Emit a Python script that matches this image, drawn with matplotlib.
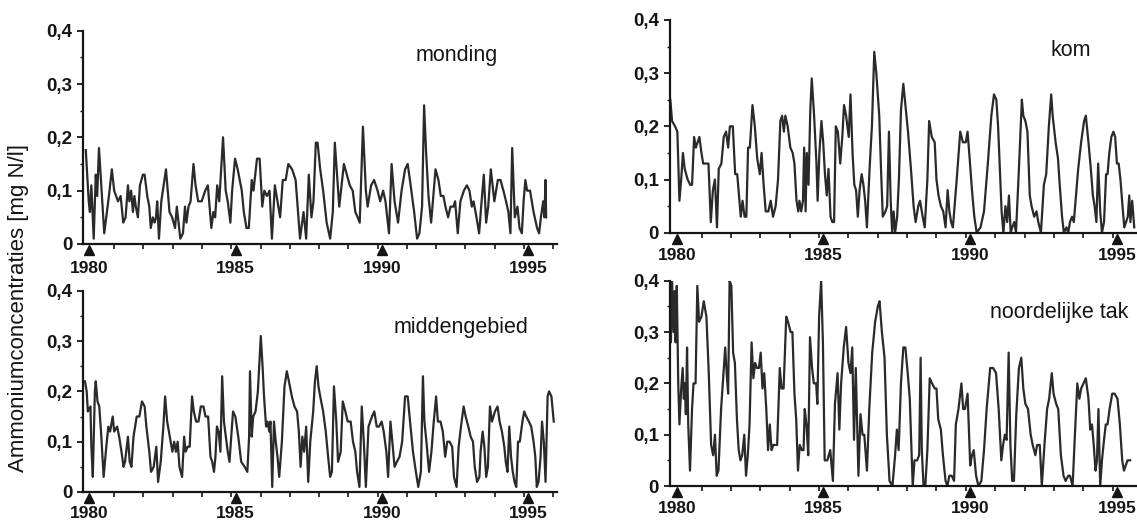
import matplotlib
matplotlib.use("Agg")
import matplotlib.pyplot as plt
from matplotlib.ticker import FixedLocator, FuncFormatter
from matplotlib.transforms import offset_copy
import numpy as np

plt.rcParams['font.family'] = ['Liberation Sans', 'DejaVu Sans']

# ---------------- data (decimal year, mg N/l) ----------------
monding_t = [1979.88,1979.98,1980.02,1980.07,1980.15,1980.22,1980.27,1980.33,1980.51,1980.67,1980.77,1980.85,1980.98,
 1981.07,1981.16,1981.24,1981.32,1981.37,1981.43,1981.49,1981.54,1981.59,1981.66,1981.73,1981.83,1981.89,1981.98,
 1982.05,1982.10,1982.17,1982.23,1982.28,1982.32,1982.38,1982.46,1982.62,1982.74,1982.83,1982.93,1982.99,
 1983.11,1983.20,1983.27,1983.32,1983.39,1983.46,1983.56,1983.63,1983.72,1983.84,1983.96,
 1984.05,1984.17,1984.24,1984.30,1984.37,1984.44,1984.57,1984.66,1984.73,1984.82,1984.88,1984.98,
 1985.07,1985.21,1985.28,1985.37,1985.45,1985.55,1985.61,1985.73,1985.82,1985.91,1985.98,
 1986.07,1986.16,1986.24,1986.34,1986.40,1986.52,1986.61,1986.71,1986.80,1986.93,
 1987.05,1987.20,1987.32,1987.41,1987.50,1987.59,1987.66,1987.74,1987.80,1987.89,1987.99,
 1988.11,1988.23,1988.32,1988.39,1988.54,1988.60,1988.70,1988.80,1988.90,1989.00,
 1989.09,1989.17,1989.24,1989.35,1989.45,1989.51,1989.63,1989.73,1989.85,1989.94,
 1990.04,1990.12,1990.24,1990.33,1990.43,1990.55,1990.67,1990.79,1990.88,1990.98,
 1991.10,1991.20,1991.28,1991.37,1991.44,1991.51,1991.59,1991.68,1991.74,1991.83,1991.93,
 1992.01,1992.10,1992.17,1992.26,1992.34,1992.44,1992.50,1992.59,1992.68,1992.80,1992.90,1992.99,
 1993.07,1993.13,1993.23,1993.32,1993.39,1993.48,1993.56,1993.63,1993.72,1993.84,1993.96,
 1994.05,1994.15,1994.24,1994.32,1994.39,1994.45,1994.54,1994.63,1994.70,1994.78,1994.84,1994.90,1994.96,
 1995.06,1995.18,1995.30,1995.37,1995.43,1995.51,1995.55,1995.59,1995.61]
monding_c = [0.176,0.08,0.06,0.11,0.01,0.13,0.09,0.18,0.02,0.09,0.14,0.10,0.08,
 0.09,0.04,0.05,0.11,0.08,0.10,0.06,0.09,0.07,0.05,0.11,0.13,0.13,0.09,
 0.07,0.03,0.05,0.04,0.05,0.08,0.01,0.08,0.14,0.06,0.05,0.03,0.07,
 0.01,0.02,0.07,0.04,0.07,0.08,0.15,0.11,0.08,0.08,0.10,
 0.11,0.03,0.06,0.05,0.11,0.08,0.20,0.10,0.08,0.04,0.10,0.16,
 0.14,0.10,0.06,0.03,0.03,0.12,0.10,0.16,0.16,0.07,0.10,
 0.09,0.10,0.01,0.11,0.09,0.05,0.12,0.12,0.15,0.14,
 0.12,0.01,0.06,0.01,0.13,0.05,0.08,0.19,0.19,0.14,0.10,
 0.04,0.01,0.06,0.19,0.07,0.10,0.15,0.13,0.11,0.10,
 0.06,0.05,0.04,0.22,0.10,0.07,0.11,0.12,0.10,0.08,
 0.10,0.08,0.02,0.15,0.08,0.04,0.10,0.14,0.15,0.11,
 0.06,0.01,0.02,0.07,0.26,0.17,0.09,0.04,0.08,0.14,0.12,
 0.09,0.09,0.07,0.05,0.07,0.07,0.08,0.02,0.08,0.10,0.11,0.10,
 0.07,0.08,0.05,0.02,0.07,0.13,0.04,0.07,0.14,0.08,0.12,
 0.12,0.10,0.08,0.06,0.02,0.18,0.05,0.07,0.03,0.02,0.08,0.12,0.10,
 0.10,0.06,0.03,0.02,0.05,0.08,0.05,0.12,0.05]

midden_t = [1979.85,1979.91,1979.95,1980.04,1980.07,1980.12,1980.19,1980.22,1980.28,1980.34,1980.40,1980.49,1980.58,
 1980.65,1980.71,1980.80,1980.85,1980.95,1981.02,1981.10,1981.17,1981.22,1981.32,1981.38,1981.44,1981.51,1981.62,
 1981.71,1981.80,1981.89,1981.95,1982.05,1982.11,1982.20,1982.29,1982.35,1982.44,1982.53,1982.59,1982.66,1982.75,
 1982.84,1982.90,1982.96,1983.02,1983.08,1983.17,1983.24,1983.29,1983.36,1983.43,1983.51,1983.57,1983.65,1983.73,
 1983.81,1983.90,1983.97,1984.06,1984.14,1984.20,1984.26,1984.31,1984.36,1984.42,1984.48,1984.54,1984.60,1984.73,
 1984.79,1984.85,1984.91,1984.99,1985.09,1985.19,1985.31,1985.40,1985.46,1985.49,1985.55,1985.60,1985.68,1985.76,
 1985.86,1985.92,1985.97,1986.04,1986.09,1986.15,1986.19,1986.25,1986.31,1986.37,1986.43,1986.49,1986.58,1986.67,
 1986.75,1986.82,1986.92,1987.01,1987.10,1987.16,1987.22,1987.28,1987.34,1987.41,1987.48,1987.55,1987.65,1987.71,
 1987.77,1987.83,1987.89,1987.99,1988.08,1988.16,1988.23,1988.29,1988.36,1988.44,1988.50,1988.59,1988.66,1988.75,
 1988.83,1988.93,1989.01,1989.09,1989.15,1989.23,1989.31,1989.38,1989.45,1989.54,1989.66,1989.74,1989.82,1989.90,
 1989.99,1990.06,1990.15,1990.21,1990.29,1990.37,1990.43,1990.51,1990.60,1990.69,1990.79,1990.88,1990.96,1991.06,
 1991.16,1991.24,1991.33,1991.40,1991.45,1991.52,1991.61,1991.69,1991.77,1991.85,1991.91,1992.00,1992.08,1992.16,
 1992.23,1992.31,1992.40,1992.46,1992.55,1992.62,1992.70,1992.79,1992.86,1992.95,1993.03,1993.11,1993.17,1993.25,
 1993.33,1993.37,1993.44,1993.50,1993.56,1993.62,1993.69,1993.76,1993.86,1993.95,1994.02,1994.10,1994.18,1994.23,
 1994.29,1994.35,1994.41,1994.47,1994.53,1994.59,1994.65,1994.71,1994.80,1994.86,1994.93,1995.02,1995.10,1995.18,
 1995.24,1995.29,1995.35,1995.42,1995.47,1995.53,1995.59,1995.66,1995.71,1995.79,1995.87]
midden_c = [0.22,0.20,0.16,0.17,0.09,0.03,0.20,0.22,0.18,0.17,0.12,0.03,0.09,
 0.13,0.12,0.15,0.12,0.13,0.11,0.08,0.05,0.06,0.11,0.06,0.05,0.11,0.15,
 0.15,0.18,0.17,0.13,0.08,0.04,0.05,0.09,0.02,0.06,0.13,0.19,0.14,0.11,
 0.08,0.10,0.08,0.10,0.05,0.03,0.11,0.08,0.09,0.09,0.19,0.16,0.14,0.14,
 0.17,0.17,0.15,0.15,0.07,0.06,0.04,0.07,0.13,0.12,0.08,0.23,0.14,0.08,
 0.06,0.11,0.16,0.15,0.11,0.06,0.05,0.04,0.11,0.24,0.11,0.15,0.16,0.20,
 0.31,0.25,0.19,0.13,0.14,0.12,0.14,0.01,0.14,0.10,0.07,0.03,0.10,0.21,
 0.24,0.22,0.19,0.17,0.16,0.12,0.05,0.11,0.08,0.13,0.02,0.10,0.16,0.22,
 0.25,0.21,0.19,0.16,0.12,0.07,0.03,0.04,0.21,0.14,0.06,0.08,0.18,0.16,
 0.14,0.14,0.10,0.08,0.04,0.01,0.17,0.10,0.01,0.13,0.15,0.16,0.13,0.13,
 0.14,0.12,0.08,0.03,0.14,0.09,0.05,0.06,0.07,0.10,0.19,0.19,0.14,0.08,
 0.04,0.01,0.04,0.23,0.14,0.10,0.04,0.08,0.14,0.19,0.14,0.14,0.12,0.07,
 0.10,0.10,0.09,0.03,0.01,0.09,0.13,0.17,0.15,0.13,0.11,0.10,0.05,0.02,
 0.03,0.08,0.12,0.09,0.03,0.05,0.17,0.14,0.16,0.17,0.14,0.12,0.09,0.06,
 0.04,0.13,0.07,0.04,0.02,0.01,0.10,0.10,0.14,0.16,0.15,0.14,0.13,0.10,
 0.07,0.01,0.02,0.07,0.14,0.10,0.02,0.19,0.20,0.19,0.14]

kom_t = [1979.78,1979.84,1979.94,1980.02,1980.09,1980.15,1980.21,1980.27,1980.37,1980.46,1980.52,1980.59,1980.65,
 1980.71,1980.77,1980.84,1980.90,1981.00,1981.08,1981.16,1981.23,1981.30,1981.37,1981.43,1981.52,1981.60,1981.68,
 1981.75,1981.81,1981.91,1981.99,1982.06,1982.12,1982.18,1982.24,1982.31,1982.37,1982.43,1982.49,1982.58,1982.66,
 1982.74,1982.83,1982.89,1982.96,1983.03,1983.12,1983.20,1983.28,1983.37,1983.45,1983.53,1983.59,1983.65,1983.70,
 1983.78,1983.87,1983.95,1984.01,1984.08,1984.14,1984.18,1984.24,1984.30,1984.34,1984.39,1984.43,1984.49,1984.55,
 1984.60,1984.68,1984.76,1984.80,1984.86,1984.93,1984.99,1985.05,1985.11,1985.17,1985.24,1985.30,1985.36,1985.42,
 1985.49,1985.57,1985.64,1985.70,1985.77,1985.86,1985.92,1985.99,1986.05,1986.11,1986.17,1986.23,1986.30,1986.36,
 1986.42,1986.48,1986.57,1986.65,1986.73,1986.80,1986.90,1986.96,1987.02,1987.11,1987.17,1987.23,1987.29,1987.34,
 1987.39,1987.44,1987.51,1987.57,1987.64,1987.72,1987.79,1987.88,1987.98,1988.07,1988.14,1988.23,1988.29,1988.38,
 1988.45,1988.54,1988.60,1988.69,1988.79,1988.85,1988.92,1989.00,1989.08,1989.16,1989.23,1989.29,1989.35,1989.41,
 1989.54,1989.66,1989.75,1989.85,1989.91,1989.98,1990.06,1990.14,1990.22,1990.35,1990.47,1990.60,1990.72,1990.81,
 1990.89,1990.95,1991.01,1991.07,1991.13,1991.20,1991.26,1991.32,1991.38,1991.43,1991.50,1991.56,1991.66,1991.76,
 1991.81,1991.88,1991.95,1992.03,1992.09,1992.18,1992.26,1992.32,1992.41,1992.51,1992.59,1992.68,1992.76,1992.81,
 1992.91,1992.99,1993.05,1993.13,1993.19,1993.28,1993.34,1993.40,1993.47,1993.53,1993.59,1993.68,1993.78,1993.88,
 1993.94,1994.03,1994.11,1994.18,1994.24,1994.30,1994.36,1994.43,1994.49,1994.56,1994.63,1994.68,1994.74,1994.81,
 1994.88,1994.94,1995.00,1995.06,1995.12,1995.19,1995.25,1995.31,1995.37,1995.42,1995.46,1995.52,1995.59]
kom_c = [0.25,0.21,0.20,0.19,0.06,0.10,0.15,0.12,0.10,0.09,0.09,0.18,0.16,
 0.17,0.18,0.15,0.13,0.13,0.13,0.02,0.08,0.10,0.01,0.12,0.13,0.18,0.19,
 0.16,0.20,0.20,0.11,0.11,0.07,0.03,0.06,0.03,0.03,0.16,0.16,0.24,0.20,
 0.14,0.11,0.15,0.09,0.04,0.04,0.06,0.03,0.05,0.10,0.21,0.22,0.19,0.22,
 0.20,0.16,0.15,0.13,0.06,0.04,0.06,0.04,0.06,0.16,0.04,0.15,0.09,0.23,
 0.29,0.22,0.13,0.06,0.15,0.21,0.17,0.11,0.07,0.12,0.03,0.02,0.02,0.20,
 0.19,0.13,0.18,0.24,0.22,0.18,0.26,0.15,0.09,0.08,0.03,0.08,0.11,0.09,
 0.06,0.01,0.12,0.20,0.34,0.30,0.22,0.12,0.03,0.04,0.05,0.19,0.06,0.00,
 0.04,0.00,0.03,0.10,0.23,0.28,0.24,0.19,0.12,0.05,0.02,0.05,0.06,0.03,
 0.01,0.10,0.21,0.18,0.17,0.10,0.07,0.05,0.04,0.01,0.08,0.04,0.02,0.01,
 0.10,0.19,0.17,0.17,0.19,0.14,0.08,0.03,0.00,0.01,0.04,0.13,0.22,0.26,
 0.25,0.20,0.12,0.04,0.00,0.05,0.02,0.07,0.00,0.01,0.02,0.00,0.12,0.25,
 0.22,0.21,0.19,0.07,0.05,0.03,0.04,0.02,0.00,0.09,0.11,0.20,0.26,0.22,
 0.17,0.14,0.09,0.03,0.00,0.01,0.00,0.02,0.03,0.02,0.06,0.12,0.17,0.21,
 0.22,0.17,0.12,0.07,0.05,0.02,0.13,0.04,0.00,0.02,0.11,0.11,0.15,0.18,
 0.19,0.18,0.13,0.13,0.10,0.05,0.01,0.02,0.03,0.07,0.02,0.06,0.01]

noord_t = [1979.76,1979.80,1979.84,1979.89,1979.93,1979.96,1980.00,1980.05,1980.09,1980.15,1980.20,1980.24,1980.27,
 1980.31,1980.35,1980.39,1980.45,1980.52,1980.57,1980.64,1980.70,1980.76,1980.84,1980.92,1981.01,1981.09,1981.17,
 1981.24,1981.30,1981.36,1981.42,1981.51,1981.58,1981.65,1981.70,1981.75,1981.80,1981.86,1981.92,1981.98,1982.05,
 1982.11,1982.17,1982.23,1982.30,1982.36,1982.42,1982.48,1982.55,1982.61,1982.67,1982.73,1982.80,1982.86,1982.92,
 1982.98,1983.05,1983.11,1983.17,1983.23,1983.29,1983.42,1983.51,1983.57,1983.64,1983.73,1983.79,1983.88,1983.94,
 1984.01,1984.07,1984.13,1984.19,1984.26,1984.32,1984.36,1984.42,1984.48,1984.54,1984.61,1984.67,1984.75,1984.79,
 1984.85,1984.92,1984.98,1985.04,1985.13,1985.23,1985.32,1985.39,1985.48,1985.54,1985.60,1985.69,1985.77,1985.85,
 1985.92,1985.98,1986.04,1986.10,1986.19,1986.26,1986.33,1986.39,1986.48,1986.56,1986.66,1986.76,1986.85,1986.91,
 1986.99,1987.08,1987.16,1987.25,1987.35,1987.44,1987.50,1987.56,1987.64,1987.72,1987.79,1987.87,1987.94,1988.04,
 1988.10,1988.19,1988.26,1988.31,1988.35,1988.41,1988.47,1988.54,1988.62,1988.70,1988.79,1988.85,1988.91,1989.00,
 1989.07,1989.16,1989.22,1989.29,1989.37,1989.45,1989.51,1989.60,1989.70,1989.76,1989.82,1989.91,1990.00,1990.06,
 1990.12,1990.20,1990.28,1990.38,1990.47,1990.56,1990.68,1990.78,1990.88,1990.97,1991.06,1991.12,1991.18,1991.24,
 1991.31,1991.37,1991.43,1991.49,1991.57,1991.66,1991.74,1991.81,1991.88,1991.97,1992.06,1992.13,1992.22,1992.28,
 1992.37,1992.44,1992.53,1992.62,1992.69,1992.78,1992.84,1992.93,1993.00,1993.09,1993.18,1993.25,1993.34,1993.40,
 1993.49,1993.56,1993.65,1993.72,1993.78,1993.86,1993.94,1994.03,1994.09,1994.15,1994.21,1994.27,1994.32,1994.37,
 1994.43,1994.49,1994.56,1994.62,1994.68,1994.75,1994.84,1994.92,1995.02,1995.10,1995.18,1995.24,1995.30,1995.36,
 1995.45]
noord_c = [0.40,0.28,0.40,0.30,0.38,0.28,0.39,0.20,0.12,0.19,0.23,0.17,0.20,
 0.14,0.27,0.12,0.03,0.15,0.20,0.20,0.39,0.32,0.33,0.36,0.33,0.22,0.08,
 0.06,0.10,0.02,0.03,0.15,0.21,0.27,0.22,0.18,0.40,0.39,0.26,0.24,0.13,
 0.07,0.05,0.06,0.10,0.02,0.06,0.12,0.28,0.21,0.24,0.23,0.23,0.26,0.19,
 0.22,0.15,0.07,0.12,0.07,0.08,0.08,0.23,0.19,0.19,0.33,0.32,0.30,0.30,
 0.18,0.13,0.03,0.08,0.07,0.07,0.15,0.12,0.06,0.29,0.23,0.20,0.20,0.16,
 0.33,0.40,0.28,0.05,0.05,0.07,0.01,0.16,0.22,0.11,0.20,0.27,0.31,0.24,
 0.22,0.27,0.09,0.23,0.02,0.14,0.10,0.10,0.03,0.15,0.26,0.32,0.35,0.36,
 0.30,0.25,0.10,0.01,0.00,0.06,0.11,0.07,0.20,0.27,0.27,0.22,0.17,0.00,
 0.05,0.05,0.06,0.25,0.07,0.00,0.00,0.07,0.21,0.20,0.19,0.19,0.13,0.11,
 0.06,0.01,0.00,0.02,0.02,0.01,0.12,0.15,0.20,0.15,0.15,0.18,0.04,0.06,
 0.07,0.02,0.00,0.01,0.07,0.15,0.23,0.23,0.22,0.15,0.05,0.08,0.10,0.09,
 0.26,0.08,0.01,0.01,0.14,0.23,0.25,0.19,0.16,0.15,0.10,0.08,0.06,0.08,
 0.08,0.00,0.08,0.15,0.17,0.22,0.18,0.16,0.15,0.06,0.02,0.01,0.02,0.02,
 0.00,0.09,0.20,0.17,0.19,0.20,0.21,0.17,0.11,0.12,0.08,0.03,0.05,0.15,
 0.00,0.05,0.09,0.12,0.12,0.15,0.18,0.18,0.17,0.12,0.05,0.03,0.04,0.05,
 0.05]

panel_names = ["monding", "kom", "middengebied", "noordelijke tak"]
year_labels = [1980, 1985, 1990, 1995]
y_ticks = [0, 0.1, 0.2, 0.3, 0.4]
ylabel_text = "Ammoniumconcentraties [mg N/l]"

# ---------------- figure ----------------
fig = plt.figure(figsize=(11.37, 5.23), dpi=100)
fig.patch.set_facecolor("white")

layout = {
    "monding":         dict(rect=[0.0734, 0.5335, 0.4162, 0.4078], xlim=(1979.80, 1995.97), title=(0.789, 0.885), pad=12),
    "kom":             dict(rect=[0.5893, 0.5551, 0.4186, 0.4067], xlim=(1979.77, 1995.99), title=(0.842, 0.856), pad=11),
    "middengebied":    dict(rect=[0.0734, 0.0593, 0.4162, 0.3848], xlim=(1979.80, 1995.97), title=(0.798, 0.816), pad=10),
    "noordelijke tak": dict(rect=[0.5893, 0.0707, 0.4186, 0.3925], xlim=(1979.77, 1995.99), title=(0.817, 0.846), pad=11),
}
series = {
    "monding": (monding_t, monding_c),
    "kom": (kom_t, kom_c),
    "middengebied": (midden_t, midden_c),
    "noordelijke tak": (noord_t, noord_c),
}

ink = "#151515"
line_col = "#2a2a2a"
for name in panel_names:
    L = layout[name]
    ax = fig.add_axes(L["rect"])
    t, c = series[name]
    ax.plot(t, c, color=line_col, lw=1.6, clip_on=True)
    ax.set_xlim(*L["xlim"])
    ax.set_ylim(0, 0.4)
    for s in ["top", "right"]:
        ax.spines[s].set_visible(False)
    for s in ["left", "bottom"]:
        ax.spines[s].set_linewidth(1.6)
        ax.spines[s].set_color(ink)
    # y ticks
    ax.set_yticks(y_ticks)
    ax.yaxis.set_minor_locator(FixedLocator(np.arange(0.05, 0.4, 0.1)))
    ax.yaxis.set_major_formatter(FuncFormatter(lambda v, p: "0" if v == 0 else f"{v:.1f}".replace(".", ",")))
    ax.tick_params(axis="y", which="major", direction="out", length=4, width=1.3, pad=4,
                   labelsize=13.5, colors=ink)
    ax.tick_params(axis="y", which="minor", direction="out", length=2.5, width=1.0, colors=ink)
    for lab in ax.get_yticklabels():
        lab.set_fontweight("bold")
    # x: labels at triangles, small ticks each year
    ax.set_xticks(year_labels)
    ax.set_xticklabels([str(y) for y in year_labels], fontweight="bold")
    ax.xaxis.set_minor_locator(FixedLocator(np.arange(1980.85, 1996.0, 1.0)))
    ax.tick_params(axis="x", which="major", length=0, pad=L["pad"], labelsize=12.5, colors=ink)
    ax.tick_params(axis="x", which="minor", direction="out", length=3.5, width=1.2, color=ink)
    # triangles just under the axis line
    tri_tr = offset_copy(ax.get_xaxis_transform(), fig=fig, x=0, y=-4.2, units="points")
    ax.plot(year_labels, [0] * len(year_labels), linestyle="none", marker="^",
            markersize=6.8, color=ink, clip_on=False, transform=tri_tr)
    ax.text(L["title"][0], L["title"][1], name, transform=ax.transAxes,
            ha="center", va="center", fontsize=15.5, color=ink)
    ax.set_facecolor("none")

fig.text(19 / 1137, 1 - 308 / 523, ylabel_text, rotation=90, ha="center", va="center",
         fontsize=16, color=ink)

fig.savefig("out.png", dpi=100, facecolor="white")
